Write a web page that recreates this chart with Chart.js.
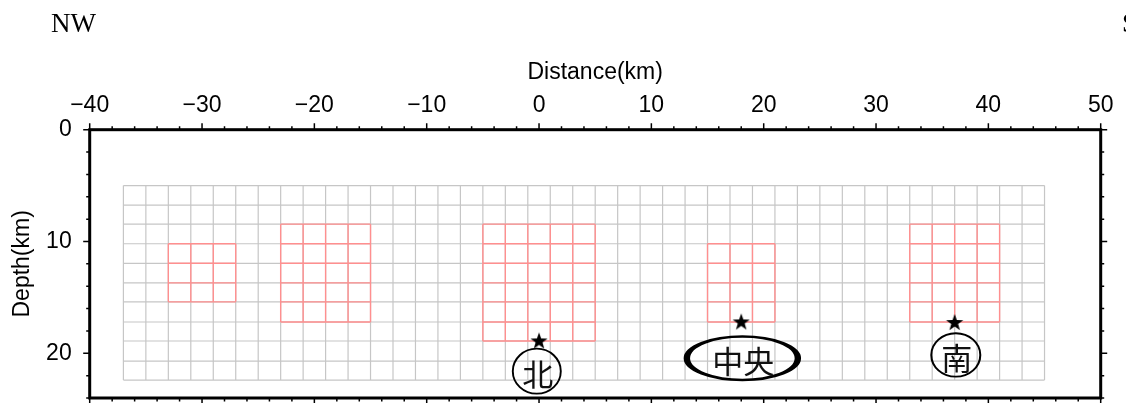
<!DOCTYPE html>
<html>
<head>
<meta charset="utf-8">
<script src="https://cdn.jsdelivr.net/npm/chart.js@4.4.0/dist/chart.umd.min.js"></script>
<style>
  html, body { margin: 0; padding: 0; background: #fff; }
  #wrap { position: relative; width: 1126px; height: 403px; }
</style>
</head>
<body>
<div id="wrap"><canvas id="profileChart"></canvas></div>
<script>
// Tick labels on the two axes
const xTicks = [-40, -30, -20, -10, 0, 10, 20, 30, 40, 50];
const yTicks = [0, 10, 20];

// Gray model grid: column positions (km) and row depths (km)
const gridX = [-37, -35, -33, -31, -29, -27, -25, -23, -21, -19, -17, -15, -13, -11,
  -9, -7, -5, -3, -1, 1, 3, 5, 7, 9, 11, 13, 15, 17, 19, 21, 23, 25, 27, 29, 31,
  33, 35, 37, 39, 41, 43, 45];
const gridDepth = [5.0, 6.75, 8.45, 10.2, 11.95, 13.7, 15.4, 17.2, 18.9, 20.7, 22.4];

// Red sub-grids: x range (km) and first/last row index into gridDepth
const blockX0 = [-33, -23, -5, 15, 33];
const blockX1 = [-27, -15, 5, 21, 41];
const blockRow0 = [3, 2, 2, 3, 2];
const blockRow1 = [6, 7, 8, 7, 7];

// Stars
const starX = [0, 18, 37];
const starDepth = [18.85, 17.15, 17.2];

// Ringed labels
const labelText = ['北', '中央', '南'];
const labelX = [-0.2, 18.1, 37.1];
const labelDepth = [21.6, 20.45, 20.15];

// build line segments with gaps between them
function gridSegments(xs, ds) {
  const pts = [];
  xs.forEach(x => {
    pts.push({x: x, y: ds[0]}, {x: x, y: ds[ds.length - 1]}, {x: x, y: null});
  });
  ds.forEach(d => {
    pts.push({x: xs[0], y: d}, {x: xs[xs.length - 1], y: d}, {x: xs[0], y: null});
  });
  return pts;
}

const grayPts = gridSegments(gridX, gridDepth);
let redPts = [];
blockX0.forEach((x0, i) => {
  const xs = gridX.filter(x => x >= x0 && x <= blockX1[i]);
  const ds = gridDepth.slice(blockRow0[i], blockRow1[i] + 1);
  redPts = redPts.concat(gridSegments(xs, ds));
});

// filled five point star used as point style
function makeStar(r) {
  const c = document.createElement('canvas');
  c.width = c.height = Math.ceil(r * 2 + 2);
  const g = c.getContext('2d');
  const cx = c.width / 2, cy = c.height / 2 + 1;
  g.beginPath();
  for (let k = 0; k < 10; k++) {
    const rad = k % 2 === 0 ? r : r * 0.4;
    const a = -Math.PI / 2 + k * Math.PI / 5;
    g.lineTo(cx + rad * Math.cos(a), cy + rad * Math.sin(a));
  }
  g.closePath();
  g.fillStyle = '#000';
  g.fill();
  return c;
}

// frame, ticks, corner texts and ringed labels
const decorations = {
  id: 'decorations',
  afterDraw(chart) {
    const {ctx, chartArea: a, scales: {x, y}} = chart;
    ctx.save();
    ctx.strokeStyle = '#000';
    ctx.lineCap = 'butt';

    // ticks every 2 km, longer every 10 km
    ctx.lineWidth = 1.5;
    ctx.beginPath();
    for (let v = -40; v <= 50; v += 2) {
      const px = x.getPixelForValue(v);
      const len = v % 10 === 0 ? 6.5 : 3.5;
      ctx.moveTo(px, a.top); ctx.lineTo(px, a.top - len);
      ctx.moveTo(px, a.bottom); ctx.lineTo(px, a.bottom + len);
    }
    for (let v = 0; v <= 24; v += 2) {
      const py = y.getPixelForValue(v);
      const len = v % 10 === 0 ? 6.5 : 3.5;
      ctx.moveTo(a.left, py); ctx.lineTo(a.left - len, py);
      ctx.moveTo(a.right, py); ctx.lineTo(a.right + len, py);
    }
    ctx.stroke();

    ctx.lineWidth = 3;
    ctx.strokeRect(a.left, a.top, a.right - a.left, a.bottom - a.top);

    // direction marks
    ctx.fillStyle = '#000';
    ctx.font = '27px "Liberation Serif", "Times New Roman", serif';
    ctx.textAlign = 'left';
    ctx.textBaseline = 'alphabetic';
    ctx.fillText('NW', 51, 31.5);
    ctx.fillText('SE', 1122, 31.5);

    // ringed labels
    const rx = [24, 55.5, 24.5];
    const ry = [22.5, 21.7, 21.7];
    const ringWidth = [1.8, 2.5, 1.8];
    labelText.forEach((t, i) => {
      const px = x.getPixelForValue(labelX[i]);
      const py = y.getPixelForValue(labelDepth[i]);
      ctx.save();
      ctx.translate(px, py);
      ctx.scale(rx[i] / ry[i], 1);
      ctx.beginPath();
      ctx.arc(0, 0, ry[i], 0, Math.PI * 2);
      ctx.lineWidth = ringWidth[i];
      ctx.stroke();
      ctx.restore();
      ctx.font = '31px "Noto Sans CJK SC", "Noto Sans CJK JP", sans-serif';
      ctx.textAlign = 'center';
      ctx.textBaseline = 'middle';
      ctx.fillStyle = '#111';
      ctx.fillText(t, px + 1, py + 3);
    });
    ctx.restore();
  }
};

Chart.defaults.font.family = '"Liberation Sans", Arial, sans-serif';
Chart.defaults.color = '#000';

const ctx = document.getElementById('profileChart').getContext('2d');
const profileChart = new Chart(ctx, {
  type: 'scatter',
  data: {
    datasets: [
      {
        label: 'stars',
        data: starX.map((v, i) => ({x: v, y: starDepth[i]})),
        pointStyle: makeStar(9),
        order: 0
      },
      {
        label: 'red grid',
        type: 'line',
        data: redPts,
        borderColor: '#ff8f8f',
        borderWidth: 1.4,
        pointRadius: 0,
        spanGaps: false,
        order: 1
      },
      {
        label: 'gray grid',
        type: 'line',
        data: grayPts,
        borderColor: '#c6c6c6',
        borderWidth: 1.2,
        pointRadius: 0,
        spanGaps: false,
        order: 2
      }
    ]
  },
  options: {
    responsive: true,
    maintainAspectRatio: false,
    animation: false,
    events: [],
    layout: { padding: { left: 0, top: 0, right: 25.3, bottom: 3 } },
    plugins: { legend: { display: false }, tooltip: { enabled: false } },
    scales: {
      x: {
        type: 'linear',
        position: 'top',
        min: -40,
        max: 50,
        afterBuildTicks: s => { s.ticks = xTicks.map(v => ({value: v})); },
        afterFit: s => { s.height = 129.7; s.paddingLeft = 0; s.paddingRight = 0; },
        ticks: {
          font: { size: 23 },
          padding: 10,
          autoSkip: false,
          maxRotation: 0,
          callback: v => String(v).replace('-', '\u2212')
        },
        grid: { display: false, drawTicks: false },
        border: { display: false },
        title: {
          display: true,
          text: 'Distance(km)',
          font: { size: 23 },
          padding: { top: 59, bottom: 0 }
        }
      },
      y: {
        type: 'linear',
        position: 'left',
        reverse: true,
        min: 0,
        max: 24,
        afterBuildTicks: s => { s.ticks = yTicks.map(v => ({value: v})); },
        afterFit: s => { s.width = 89.7; s.paddingTop = 0; s.paddingBottom = 0; },
        ticks: {
          font: { size: 23 },
          padding: 18,
          autoSkip: false
        },
        grid: { display: false, drawTicks: false },
        border: { display: false },
        title: {
          display: true,
          text: 'Depth(km)',
          font: { size: 23 },
          padding: { top: 8.7, bottom: 0 }
        }
      }
    }
  },
  plugins: [decorations]
});
</script>
</body>
</html>
